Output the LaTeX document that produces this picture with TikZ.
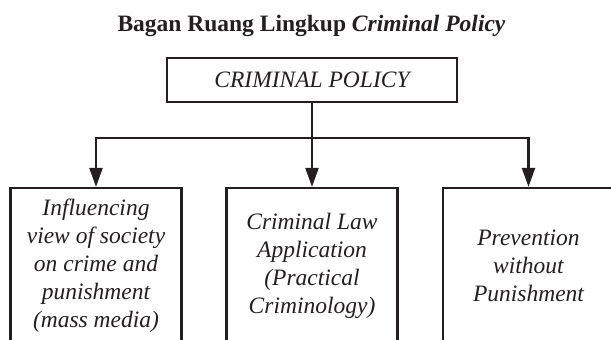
\documentclass[tikz,border=0pt]{standalone}
\usepackage{fontspec}
\setmainfont{Liberation Serif}
\usetikzlibrary{arrows.meta}
\definecolor{ink}{RGB}{35,31,32}

\begin{document}
\begin{tikzpicture}[x=1pt,y=1pt,->,>={Triangle[length=19pt,width=13pt]},line width=2.2pt,color=ink,
    box/.style={draw,rectangle,inner sep=0pt,align=center,font=\fontsize{23.5}{28}\selectfont\itshape},
    branch/.style={box,minimum width=171,minimum height=156}]

        \useasboundingbox (0,0) rectangle (611,340);
        \clip (0,0) rectangle (611,340);

        \node[anchor=base,font=\fontsize{23.5}{28}\selectfont\bfseries] (title) at (311.5,308) {Bagan Ruang Lingkup \textit{Criminal Policy}};
        \node[box,minimum width=290,minimum height=44] (policy) at (312,260) {CRIMINAL POLICY};

        \node[branch] (media) at (96,74) {Influencing\\view of society\\on crime and\\punishment\\(mass media)};
        \node[branch] (law) at (312,74) {Criminal Law\\Application\\(Practical\\Criminology)};
        \node[branch] (prevent) at (528.5,74) {Prevention\\without\\Punishment};

        \coordinate (split) at (312,202);

        \draw[-] (policy.south) -- (split);
        \draw (split) -| (media.north);
        \draw (split) -- (law.north);
        \draw (split) -| (prevent.north);
    \end{tikzpicture}
\end{document}
